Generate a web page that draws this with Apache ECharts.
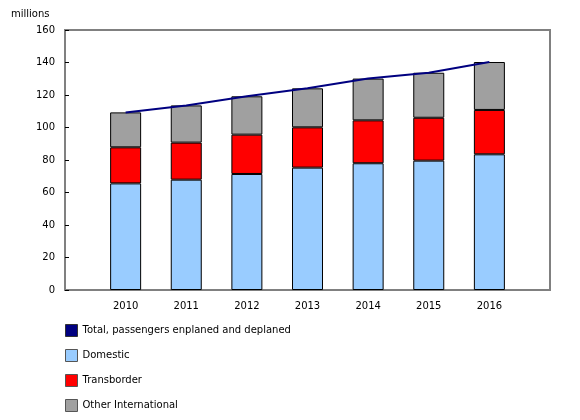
<!DOCTYPE html>
<html lang="en">
<head>
    <meta charset="utf-8">
    <title>ECharts</title>
    <script src="https://cdn.jsdelivr.net/npm/echarts@6/dist/echarts.min.js"></script>
</head>
<body style="margin:0">
<div id="main" style="width: 580px;height:420px;"></div>
<script type="text/javascript">
    // years, with an empty slot each side like the original
    var years = ['', '2010', '2011', '2012', '2013', '2014', '2015', '2016', ''];
    var domestic = [null, 65.6, 67.9, 71.4, 75.3, 78.0, 79.6, 83.5, null];
    var transborder = [null, 22.2, 22.8, 24.2, 24.8, 26.4, 26.4, 27.3, null];
    var otherIntl = [null, 21.5, 22.9, 23.6, 24.0, 25.7, 27.7, 29.5, null];
    var total = [null, 109.3, 113.6, 119.2, 124.1, 130.1, 133.7, 140.3, null];

    var myChart = echarts.init(document.getElementById('main'));
    var font = 'Verdana, "DejaVu Sans", sans-serif';

    var barStyle = function (color) {
        return { color: color, borderColor: '#000', borderWidth: 1 };
    };

    option = {
        animation: false,
        textStyle: { fontFamily: font },
        title: {
            text: 'millions', left: 11, top: 9, padding: 0,
            textStyle: { fontFamily: font, fontSize: 10, fontWeight: 'normal', color: '#000' }
        },
        grid: {
            left: 65, right: 30, top: 30, bottom: 130,
            outerBoundsMode: 'none', containLabel: false,
            show: true, borderColor: '#808080', borderWidth: 2
        },
        legend: {
            orient: 'vertical',
            left: 65, top: 324, padding: 0,
            height: 96,
            itemGap: 12,
            itemWidth: 12, itemHeight: 12,
            icon: 'rect',
            textStyle: { fontFamily: font, fontSize: 10, color: '#000' },
            data: [
                { name: 'Total, passengers enplaned and deplaned', itemStyle: { color: '#000080', borderColor: '#333', borderWidth: 1 } },
                { name: 'Domestic', itemStyle: { color: '#99ccff', borderColor: '#555', borderWidth: 1 } },
                { name: 'Transborder', itemStyle: { color: '#ff0000', borderColor: '#555', borderWidth: 1 } },
                { name: 'Other International', itemStyle: { color: '#a0a0a0', borderColor: '#555', borderWidth: 1 } }
            ]
        },
        xAxis: {
            type: 'category',
            data: years,
            boundaryGap: false,
            axisLine: { lineStyle: { color: '#808080', width: 2 } },
            axisTick: { show: false },
            axisLabel: { color: '#000', fontSize: 10, margin: 11, fontFamily: font },
            splitLine: { show: false }
        },
        yAxis: {
            type: 'value',
            min: 0, max: 160, interval: 20,
            axisLine: { show: true, lineStyle: { color: '#808080', width: 2 } },
            axisTick: { show: true, inside: true, length: 4, lineStyle: { color: '#000' } },
            axisLabel: { color: '#000', fontSize: 10, margin: 10, fontFamily: font },
            splitLine: { show: false }
        },
        series: [
            {
                name: 'Domestic', type: 'bar', stack: 'p', barWidth: 31,
                itemStyle: barStyle('#99ccff'), data: domestic
            },
            {
                name: 'Transborder', type: 'bar', stack: 'p', barWidth: 31,
                itemStyle: barStyle('#ff0000'), data: transborder
            },
            {
                name: 'Other International', type: 'bar', stack: 'p', barWidth: 31,
                itemStyle: barStyle('#a0a0a0'), data: otherIntl
            },
            {
                name: 'Total, passengers enplaned and deplaned', type: 'line',
                symbol: 'none', z: 5,
                lineStyle: { color: '#000080', width: 2 },
                itemStyle: { color: '#000080' },
                data: total
            }
        ]
    };
    myChart.setOption(option);
</script>
</body>
</html>
